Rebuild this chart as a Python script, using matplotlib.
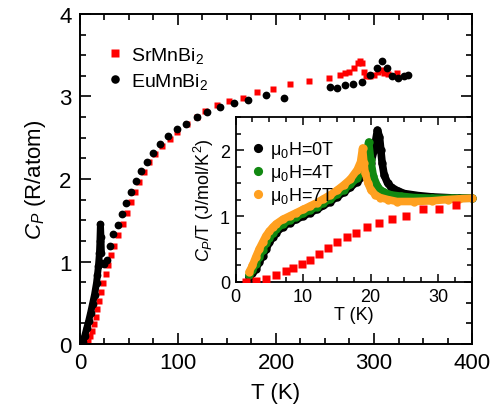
import matplotlib
matplotlib.use("Agg")
import matplotlib.pyplot as plt
from matplotlib.ticker import MultipleLocator

plt.rcParams['font.family'] = ['Liberation Sans', 'DejaVu Sans']
plt.rcParams['mathtext.fontset'] = 'custom'
plt.rcParams['mathtext.rm'] = 'Liberation Sans'
plt.rcParams['mathtext.it'] = 'Liberation Sans:italic'

# ---- main panel data: Cp (R/atom) vs T (K)
sr_T = [2, 4, 6, 8, 10, 12, 14, 16, 18, 20, 22, 24, 26.5, 29, 32, 35, 39, 44, 48,
        52, 56, 60, 65, 71, 77, 84, 92, 99, 109, 119, 128, 140, 152, 166, 181, 197,
        214, 234, 254, 265, 270, 275, 280, 284, 286, 288, 290, 292, 296, 300, 304,
        307, 310, 314, 323]
sr_Cp = [0.0, 0.01, 0.02, 0.05, 0.1, 0.16, 0.24, 0.33, 0.42, 0.52, 0.63, 0.74, 0.85,
         0.96, 1.08, 1.19, 1.32, 1.46, 1.59, 1.72, 1.84, 1.96, 2.09, 2.2, 2.3, 2.4,
         2.48, 2.57, 2.67, 2.75, 2.83, 2.9, 2.95, 2.98, 3.05, 3.09, 3.15, 3.19, 3.22,
         3.26, 3.28, 3.3, 3.34, 3.4, 3.43, 3.4, 3.3, 3.25, 3.25, 3.26, 3.3, 3.32,
         3.28, 3.27, 3.29]

eu_T = [1, 3, 5, 7, 9, 11, 13, 15, 17, 18, 19, 20, 20.5, 21, 21.5, 22, 23, 25, 27.5,
        31, 34, 39, 43, 47, 52, 57, 62, 68, 75, 82, 90, 99, 108, 119, 130, 143, 157,
        172, 190, 208, 255, 262, 270, 279, 288, 296, 303, 308, 313, 318, 324, 331, 335]
eu_Cp = [0.01, 0.03, 0.1, 0.19, 0.28, 0.38, 0.49, 0.6, 0.74, 0.84, 0.95, 1.1, 1.25,
         1.45, 1.3, 1.1, 0.98, 0.97, 1.02, 1.19, 1.33, 1.44, 1.58, 1.71, 1.84, 1.97,
         2.1, 2.21, 2.32, 2.42, 2.52, 2.61, 2.67, 2.75, 2.81, 2.87, 2.92, 2.96, 3.02,
         2.98, 3.11, 3.1, 3.14, 3.15, 3.17, 3.26, 3.35, 3.43, 3.35, 3.25, 3.22, 3.25, 3.26]

# ---- inset data: Cp/T (J/mol/K^2) vs T (K)
in_sr_T = [1.5, 3, 4.5, 6, 7.5, 8.5, 9.8, 11, 12.3, 13.7, 15, 16.5, 17.9, 19.5, 21.2,
           23.2, 25.2, 27.7, 30.1, 32.6]
in_sr_CT = [0.0, 0.02, 0.05, 0.1, 0.16, 0.21, 0.27, 0.34, 0.43, 0.52, 0.6, 0.68, 0.75,
            0.84, 0.9, 0.95, 1.0, 1.1, 1.11, 1.16]

h0_T = [2, 2.5, 3, 3.5, 4, 4.5, 5, 5.5, 6, 7, 8, 9, 10, 11, 12, 13, 14, 15, 16, 17, 18,
        19, 20, 20.5, 21, 21.3, 21.5, 21.7, 22, 22.5, 23, 24, 25, 27, 29, 31, 33, 35]
h0_CT = [0.08, 0.13, 0.2, 0.3, 0.4, 0.5, 0.6, 0.68, 0.75, 0.84, 0.9, 0.95, 1.0, 1.05,
         1.1, 1.16, 1.22, 1.29, 1.36, 1.44, 1.52, 1.62, 1.8, 2.0, 2.3, 2.2, 2.0, 1.8,
         1.62, 1.5, 1.44, 1.38, 1.34, 1.31, 1.29, 1.28, 1.27, 1.27]

h4_T = [2, 2.5, 3, 3.5, 4, 4.5, 5, 5.5, 6, 7, 8, 9, 10, 11, 12, 13, 14, 15, 16, 17, 18,
        18.8, 19.3, 19.7, 20, 20.4, 21, 21.4, 22, 23, 24.5, 26.4, 29, 32, 35]
h4_CT = [0.1, 0.18, 0.28, 0.38, 0.49, 0.59, 0.67, 0.74, 0.8, 0.88, 0.94, 0.99, 1.04,
         1.09, 1.14, 1.2, 1.26, 1.33, 1.4, 1.48, 1.58, 1.72, 1.9, 2.12, 1.85, 1.6, 1.45,
         1.4, 1.36, 1.32, 1.3, 1.28, 1.27, 1.27, 1.27]

h7_T = [2, 2.5, 3, 3.5, 4, 4.5, 5, 5.5, 6, 7, 8, 9, 10, 11, 12, 13, 14, 15, 16, 17, 18,
        18.5, 18.8, 19.0, 19.2, 19.6, 20, 20.7, 21.4, 22.5, 23.9, 26.4, 29, 31.4, 33, 35]
h7_CT = [0.15, 0.25, 0.38, 0.5, 0.6, 0.7, 0.77, 0.83, 0.88, 0.95, 1.0, 1.05, 1.1, 1.15,
         1.2, 1.26, 1.32, 1.39, 1.47, 1.56, 1.7, 1.82, 2.03, 1.8, 1.65, 1.5, 1.4, 1.32,
         1.28, 1.25, 1.22, 1.22, 1.23, 1.25, 1.26, 1.27]

RED = '#ff0000'
GREEN = '#118811'
ORANGE = '#ffa020'

fig = plt.figure(figsize=(4.99, 4.10), dpi=100)
ax = fig.add_axes([0.160, 0.1585, 0.786, 0.805])

ax.plot(sr_T, sr_Cp, 's', color=RED, ms=4.6, mec='none', label='SrMnBi$_2$', zorder=2)
ax.plot(eu_T, eu_Cp, 'o', color='black', ms=5.6, mec='none', label='EuMnBi$_2$', zorder=3)
ax.plot(eu_T[:16], eu_Cp[:16], '-', color='black', lw=5, solid_capstyle='round', zorder=3)

ax.set_xlim(0, 400)
ax.set_ylim(0, 4)
ax.xaxis.set_major_locator(MultipleLocator(100))
ax.xaxis.set_minor_locator(MultipleLocator(25))
ax.yaxis.set_major_locator(MultipleLocator(1))
ax.yaxis.set_minor_locator(MultipleLocator(0.25))
ax.tick_params(which='both', direction='in', top=True, right=True, width=1.2)
ax.tick_params(which='major', length=8, labelsize=16, pad=6)
ax.tick_params(which='minor', length=4.5)
for s in ax.spines.values():
    s.set_linewidth(1.4)
ax.set_xlabel('T (K)', fontsize=16, labelpad=6)
ax.set_ylabel('$C_P$ (R/atom)', fontsize=16, labelpad=8)
ax.legend(loc='upper left', bbox_to_anchor=(0.035, 0.93), frameon=False, fontsize=14,
          handletextpad=0.1, labelspacing=0.3, handlelength=1.4, borderaxespad=0,
          markerscale=1.1)

# ---- inset
ins = fig.add_axes([0.472, 0.3098, 0.474, 0.4022])
for T, v, c, lab in [(h0_T, h0_CT, 'black', 'μ$_0$H=0T'),
                     (h4_T, h4_CT, GREEN, 'μ$_0$H=4T'),
                     (h7_T, h7_CT, ORANGE, 'μ$_0$H=7T')]:
    ins.plot(T, v, '-', color=c, lw=5.5, solid_capstyle='round', solid_joinstyle='round',
             zorder=2, clip_on=False)
    ins.plot(T, v, 'o', color=c, ms=6, mec='none', label=lab, zorder=2, clip_on=False)
ins.plot(in_sr_T, in_sr_CT, 's', color=RED, ms=5.5, mec='none', zorder=3)

ins.set_xlim(0, 35)
ins.set_ylim(0, 2.5)
ins.xaxis.set_major_locator(MultipleLocator(10))
ins.xaxis.set_minor_locator(MultipleLocator(2.5))
ins.yaxis.set_major_locator(MultipleLocator(1))
ins.yaxis.set_minor_locator(MultipleLocator(0.25))
ins.tick_params(which='both', direction='in', top=True, right=True, width=1.1)
ins.tick_params(which='major', length=6, labelsize=13, pad=4)
ins.tick_params(which='minor', length=3.5)
for s in ins.spines.values():
    s.set_linewidth(1.3)
ins.set_xlabel('T (K)', fontsize=13, labelpad=1)
ins.set_ylabel('$C_P$/T (J/mol/K$^2$)', fontsize=13, labelpad=3)
ins.legend(loc='upper left', bbox_to_anchor=(0.0, 0.93), frameon=False, fontsize=13,
           handletextpad=0.0, labelspacing=0.1, handlelength=1.3, borderaxespad=0.2,
           markerscale=1.1)

fig.savefig('out.png', dpi=100)
